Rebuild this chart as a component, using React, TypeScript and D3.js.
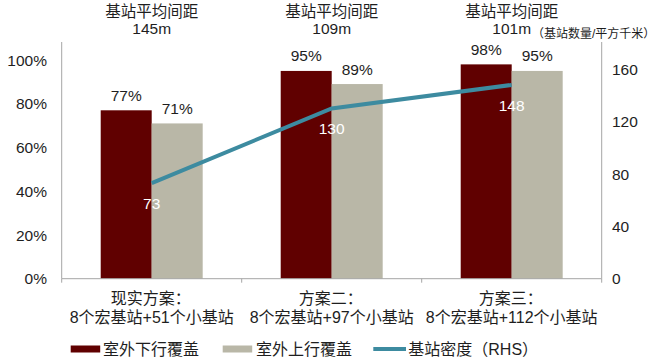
import React from "react";
import * as d3 from "d3";

// chart data
const categories = ["现实方案", "方案二", "方案三"];
const categoryLines = [
  ["现实方案：", "8个宏基站+51个小基站"],
  ["方案二：", "8个宏基站+97个小基站"],
  ["方案三：", "8个宏基站+112个小基站"],
];
const spacingTitle = "基站平均间距";
const spacingValues = ["145m", "109m", "101m"];
const downlink = [0.77, 0.95, 0.98];
const uplink = [0.71, 0.89, 0.95];
const density = [73, 130, 148];
const leftTicks = [0, 0.2, 0.4, 0.6, 0.8, 1.0];
const rightTicks = [0, 40, 80, 120, 160];
const seriesNames = ["室外下行覆盖", "室外上行覆盖", "基站密度（RHS）"];
const rightUnit = "（基站数量/平方千米）";

const colors = { down: "#600000", up: "#B9B7A7", line: "#3D8BA0" };
const font = "'Liberation Sans', Arial, 'Noto Sans CJK SC', sans-serif";
const textColor = "#1e1e1e";
const axisColor = "#a6a6a6";

const W = 660;
const H = 359;
const margin = { left: 61.7, right: 58.3, top: 42, bottom: 80.3 };

const App: React.FC = () => {
  const x0 = margin.left;
  const x1 = W - margin.right;
  const yBase = H - margin.bottom;

  const x = d3.scaleBand<string>().domain(categories).range([x0, x1]).padding(0);
  const xs = d3
    .scaleBand<string>()
    .domain(["down", "up"])
    .range([0, x.bandwidth()])
    .paddingInner(0)
    .paddingOuter(0.765);
  const yL = d3.scaleLinear().domain([0, 1]).range([yBase, 60]);
  const yR = d3.scaleLinear().domain([0, 160]).range([yBase, 69.2]);

  const cx = (c: string) => (x(c) || 0) + x.bandwidth() / 2;

  const line = d3
    .line<number>()
    .x((_, i) => cx(categories[i]))
    .y((d) => yR(d));

  const fmt = d3.format(".0%");

  return (
    <svg
      width={W}
      height={H}
      style={{ position: "absolute", left: 0, top: 0, background: "#fff" }}
      fontFamily={font}
    >
      {/* titles above each group */}
      {categories.map((c, i) => (
        <g key={"t" + c} fill={textColor} fontSize={15.5} textAnchor="middle">
          <text x={cx(c)} y={17}>{spacingTitle}</text>
          <text x={cx(c)} y={34}>{spacingValues[i]}</text>
        </g>
      ))}
      <text x={532} y={38} fontSize={12} fill={textColor}>
        {rightUnit}
      </text>

      {/* bars */}
      {categories.map((c, i) => (
        <g key={"b" + c}>
          <rect
            x={(x(c) || 0) + (xs("down") || 0)}
            y={yL(downlink[i])}
            width={xs.bandwidth()}
            height={yBase - yL(downlink[i])}
            fill={colors.down}
          />
          <rect
            x={(x(c) || 0) + (xs("up") || 0)}
            y={yL(uplink[i])}
            width={xs.bandwidth()}
            height={yBase - yL(uplink[i])}
            fill={colors.up}
          />
          <text
            x={(x(c) || 0) + (xs("down") || 0) + xs.bandwidth() / 2}
            y={yL(downlink[i]) - 9.5}
            textAnchor="middle"
            fontSize={15.5}
            fill={textColor}
          >
            {fmt(downlink[i])}
          </text>
          <text
            x={(x(c) || 0) + (xs("up") || 0) + xs.bandwidth() / 2}
            y={yL(uplink[i]) - 9.5}
            textAnchor="middle"
            fontSize={15.5}
            fill={textColor}
          >
            {fmt(uplink[i])}
          </text>
        </g>
      ))}

      {/* axes */}
      <line x1={x0} x2={x0} y1={margin.top} y2={yBase} stroke={axisColor} />
      <line x1={x1} x2={x1} y1={margin.top} y2={yBase} stroke={axisColor} />
      <line x1={x0} x2={x1} y1={yBase} y2={yBase} stroke={axisColor} />
      {[x0, ...categories.map((c) => (x(c) || 0) + x.bandwidth())].map((t, i) => (
        <line key={"xt" + i} x1={t} x2={t} y1={yBase} y2={yBase + 4} stroke={axisColor} />
      ))}
      {leftTicks.map((t) => (
        <text
          key={"l" + t}
          x={47}
          y={yL(t)}
          dy="0.36em"
          textAnchor="end"
          fontSize={15.5}
          fill={textColor}
        >
          {fmt(t)}
        </text>
      ))}
      {rightTicks.map((t) => (
        <text key={"r" + t} x={612} y={yR(t)} dy="0.36em" fontSize={15.5} fill={textColor}>
          {t}
        </text>
      ))}

      {/* density line */}
      <path d={line(density) || ""} fill="none" stroke={colors.line} strokeWidth={4} />
      {density.map((d, i) => (
        <text
          key={"d" + i}
          x={cx(categories[i])}
          y={yR(d) + 26}
          textAnchor="middle"
          fontSize={15.5}
          fill="#ffffff"
        >
          {d}
        </text>
      ))}

      {/* category labels */}
      {categories.map((c, i) => (
        <g key={"c" + c} fill={textColor} fontSize={16} textAnchor="middle">
          <text x={cx(c) - 1} y={304}>{categoryLines[i][0]}</text>
          <text x={cx(c)} y={323}>{categoryLines[i][1]}</text>
        </g>
      ))}

      {/* legend */}
      <g fontSize={16} fill={textColor}>
        <rect x={70.7} y={345.5} width={29.5} height={7} fill={colors.down} />
        <text x={103} y={355}>{seriesNames[0]}</text>
        <rect x={222.7} y={345.5} width={29.5} height={7} fill={colors.up} />
        <text x={256} y={355}>{seriesNames[1]}</text>
        <line x1={373.3} x2={406} y1={349} y2={349} stroke={colors.line} strokeWidth={4} />
        <text x={408.3} y={355}>{seriesNames[2]}</text>
      </g>
    </svg>
  );
};

export default App;
